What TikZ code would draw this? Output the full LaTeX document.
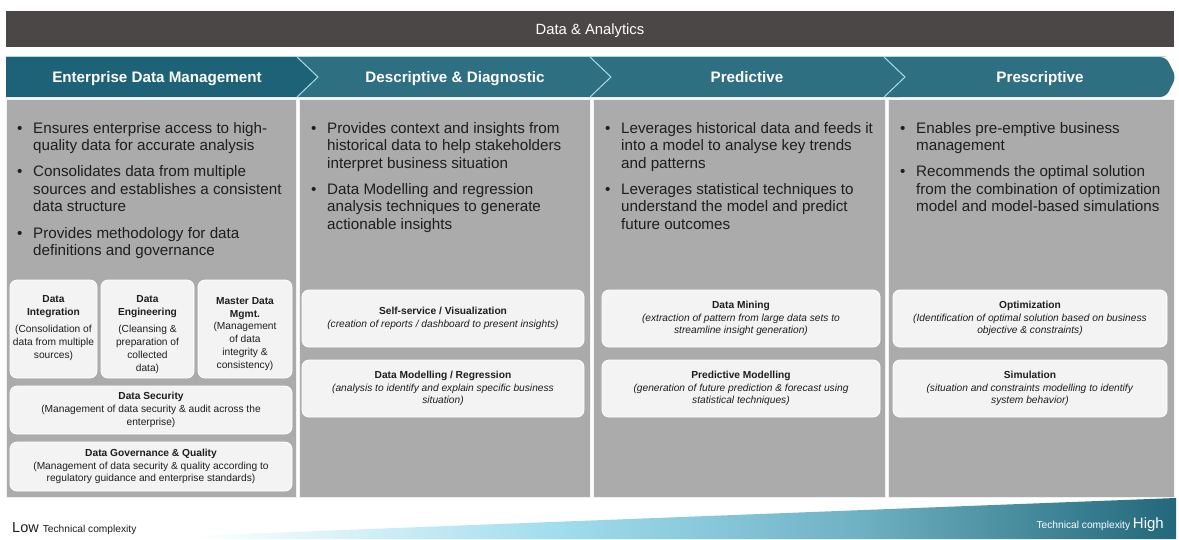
\documentclass[tikz,border=0pt]{standalone}
\usepackage{fontspec}
\setmainfont{Liberation Sans}
\definecolor{barc}{HTML}{4B4747}
\definecolor{tealA}{HTML}{1D6276}
\definecolor{tealB}{HTML}{2E6F81}
\definecolor{gbody}{HTML}{ABABAB}
\definecolor{boxc}{HTML}{F3F3F3}
\definecolor{linec}{HTML}{A8DCE8}
\definecolor{txt}{HTML}{1E1E1E}
\definecolor{cyanl}{HTML}{A0DDEE}
\definecolor{tealm}{HTML}{6FB2C4}
\definecolor{tealdk}{HTML}{22677A}
\pgfdeclarehorizontalshading{wedgeshade}{100bp}{color(0bp)=(white); color(25bp)=(white); color(29bp)=(white); color(46bp)=(cyanl); color(60bp)=(tealm); color(75bp)=(tealdk); color(100bp)=(tealdk)}
\tikzset{
  hdr/.style={font=\fontsize{15.2}{17}\selectfont\bfseries, text=white, inner sep=0pt, anchor=base},
  bl/.style={anchor=north west, inner sep=0pt, text=txt, font=\fontsize{15.2}{17.8}\selectfont},
  sbox/.style={fill=boxc, draw=white, line width=0.8pt, rounded corners=7pt, inner sep=0pt, align=center, text=txt, font=\fontsize{10.2}{12.8}\selectfont},
  stext/.style={inner sep=0pt, align=center, text=txt, font=\fontsize{10.2}{12.8}\selectfont, anchor=north},
  colbox/.style={fill=gbody, draw=white!88!gray, line width=1pt},
}
\begin{document}
\begin{tikzpicture}[x=1pt,y=-1pt]
\useasboundingbox (0,0) rectangle (1179,539);
\fill[white] (0,0) rectangle (1179,539);
% top bar
\fill[barc] (6,11) rectangle (1174,47);
\node[text=white, font=\fontsize{14.8}{16}\selectfont, inner sep=0pt, anchor=base] (title) at (590,34.5) {Data \& Analytics};
% header chevrons
\fill[tealA] (6,57) -- (297,57) -- (318,77) -- (297,97) -- (6,97) -- cycle;
\fill[tealB] (297,57) -- (590,57) -- (611,77) -- (590,97) -- (297,97) -- (318,77) -- cycle;
\fill[tealB] (590,57) -- (884,57) -- (905,77) -- (884,97) -- (590,97) -- (611,77) -- cycle;
\fill[tealB, rounded corners=6pt] (905,77) -- (884,57) -- (1166,57) -- (1176,77) -- (1166,97) -- (884,97) -- cycle;
\fill[tealB] (884,57) -- (905,77) -- (884,97) -- (900,97) -- (920,77) -- (900,57) -- cycle;
\draw[linec, line width=1pt] (6,56.5) -- (1166,56.5);
\draw[linec, line width=1pt] (297,57) -- (318,77) -- (297,97);
\draw[linec, line width=1pt] (590,57) -- (611,77) -- (590,97);
\draw[linec, line width=1pt] (884,57) -- (905,77) -- (884,97);
\node[hdr] (h1) at (157,82.5) {Enterprise Data Management};
\node[hdr] (h2) at (455,82.5) {Descriptive \& Diagnostic};
\node[hdr] (h3) at (747,82.5) {Predictive};
\node[hdr] (h4) at (1040,82.5) {Prescriptive};
% body columns
\draw[colbox] (6,99) rectangle (296,497);
\draw[colbox] (299,99) rectangle (590,497);
\draw[colbox] (593,99) rectangle (885,497);
\draw[colbox] (888,99) rectangle (1174,497);
% bullets
\node[bl] (t1) at (17,120.5) {\begin{tabular}{@{}p{16pt}@{}l@{}}
\textbullet&Ensures enterprise access to high-\\
&quality data for accurate analysis\\[7.5pt]
\textbullet&Consolidates data from multiple\\
&sources and establishes a consistent\\
&data structure\\[8.5pt]
\textbullet&Provides methodology for data\\
&definitions and governance
\end{tabular}};
\node[bl] (t2) at (311,120.5) {\begin{tabular}{@{}p{16pt}@{}l@{}}
\textbullet&Provides context and insights from\\
&historical data to help stakeholders\\
&interpret business situation\\[7.5pt]
\textbullet&Data Modelling and regression\\
&analysis techniques to generate\\
&actionable insights
\end{tabular}};
\node[bl] (t3) at (605,120.5) {\begin{tabular}{@{}p{16pt}@{}l@{}}
\textbullet&Leverages historical data and feeds it\\
&into a model to analyse key trends\\
&and patterns\\[7.5pt]
\textbullet&Leverages statistical techniques to\\
&understand the model and predict\\
&future outcomes
\end{tabular}};
\node[bl] (t4) at (900,120.5) {\begin{tabular}{@{}p{16pt}@{}l@{}}
\textbullet&Enables pre-emptive business\\
&management\\[7.5pt]
\textbullet&Recommends the optimal solution\\
&from the combination of optimization\\
&model and model-based simulations
\end{tabular}};
% column 1 boxes
\node[sbox, minimum width=87, minimum height=98] (di) at (53.5,329) {};
\node[stext] (dit) at (53.5,295) {\textbf{Data}\\\textbf{Integration}\\[5pt](Consolidation of\\data from multiple\\sources)};
\node[sbox, minimum width=93, minimum height=98] (de) at (147.5,329) {};
\node[stext] (det) at (147.5,295) {\textbf{Data}\\\textbf{Engineering}\\[5pt](Cleansing \&\\preparation of\\collected\\data)};
\node[sbox, minimum width=94, minimum height=98] (md) at (245,329) {};
\node[stext] (mdt) at (245,297) {\textbf{Master Data}\\\textbf{Mgmt.}\\(Management\\of data\\integrity \&\\consistency)};
\node[sbox, minimum width=282, minimum height=48] (ds) at (151,410) {\textbf{Data Security}\\(Management of data security \& audit across the\\enterprise)};
\node[sbox, minimum width=282, minimum height=49] (dg) at (151,466.5) {\textbf{Data Governance \& Quality}\\(Management of data security \& quality according to\\regulatory guidance and enterprise standards)};
% column 2 boxes
\node[sbox, minimum width=282, minimum height=57] (sv) at (443,318.5) {\textbf{Self-service / Visualization}\\\textit{(creation of reports / dashboard to present insights)}};
\node[sbox, minimum width=282, minimum height=57] (dm) at (443,388.5) {\textbf{Data Modelling / Regression}\\\textit{(analysis to identify and explain specific business}\\\textit{situation)}};
% column 3 boxes
\node[sbox, minimum width=278, minimum height=57] (mi) at (741,318.5) {\textbf{Data Mining}\\\textit{(extraction of pattern from large data sets to}\\\textit{streamline insight generation)}};
\node[sbox, minimum width=278, minimum height=57] (pm) at (741,388.5) {\textbf{Predictive Modelling}\\\textit{(generation of future prediction \& forecast using}\\\textit{statistical techniques)}};
% column 4 boxes
\node[sbox, minimum width=274, minimum height=57] (op) at (1030,318.5) {\textbf{Optimization}\\\textit{(Identification of optimal solution based on business}\\\textit{objective \& constraints)}};
\node[sbox, minimum width=274, minimum height=57] (si) at (1030,388.5) {\textbf{Simulation}\\\textit{(situation and constraints modelling to identify}\\\textit{system behavior)}};
% complexity wedge
\shade[shading=wedgeshade] (110,539) -- (1176,498) -- (1176,539) -- cycle;
\node[anchor=base west, inner sep=0pt, text=txt] (low) at (12,532.5) {\fontsize{14.5}{16}\selectfont Low \fontsize{10.2}{12}\selectfont Technical complexity};
\node[anchor=base east, inner sep=0pt, text=white] (high) at (1164,528) {\fontsize{10.2}{12}\selectfont Technical complexity \fontsize{15}{16}\selectfont High};
\end{tikzpicture}
\end{document}
